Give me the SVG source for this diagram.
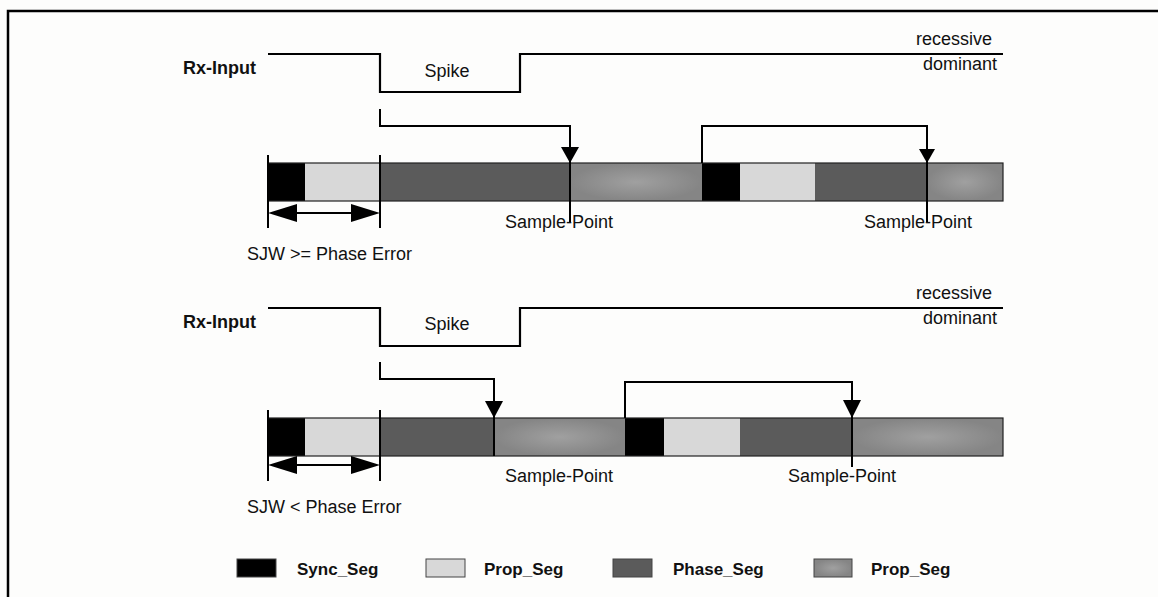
<svg xmlns="http://www.w3.org/2000/svg" width="1158" height="597" viewBox="0 0 1158 597">
<defs>
<radialGradient id="gr" cx="0.5" cy="0.5" r="0.5">
<stop offset="0" stop-color="#a0a0a0"/>
<stop offset="1" stop-color="#858585"/>
</radialGradient>
</defs>
<style>
.t{font-family:"Liberation Sans",Arial,sans-serif;font-size:18px;fill:#111}
.b{font-family:"Liberation Sans",Arial,sans-serif;font-size:18px;font-weight:bold;fill:#111}
.lg{font-family:"Liberation Sans",Arial,sans-serif;font-size:17px;font-weight:bold;fill:#111}
.sig{fill:none;stroke:#000;stroke-width:2.2}
.ln{fill:none;stroke:#000;stroke-width:2}
.sync{fill:#000}
.prop{fill:#d8d8d8}
.phase{fill:#5b5b5b}
.ps2{fill:url(#gr)}
.bar{fill:none;stroke:#222;stroke-width:1.2}
.ah{fill:#000}
.sq{stroke:#444;stroke-width:1}
</style>
<rect x="0" y="0" width="1158" height="597" fill="#fdfdfc"/>
<path d="M8,597 V11 H1158" fill="none" stroke="#000" stroke-width="2.5"/>

<g id="top-signal">
<text class="b" x="183" y="74">Rx-Input</text>
<path class="sig" d="M268,54 H380 V92 H520 V54 H1003"/>
<text class="t" x="447" y="77" text-anchor="middle">Spike</text>
<text class="t" x="992" y="45" text-anchor="end">recessive</text>
<text class="t" x="997" y="70" text-anchor="end">dominant</text>
</g>

<g id="top-bar">
<rect class="sync" x="268" y="163" width="37" height="38"/>
<rect class="prop" x="305" y="163" width="75" height="38"/>
<rect class="phase" x="380" y="163" width="190" height="38"/>
<rect class="ps2" x="570" y="163" width="132" height="38"/>
<rect class="sync" x="702" y="163" width="38" height="38"/>
<rect class="prop" x="740" y="163" width="75" height="38"/>
<rect class="phase" x="815" y="163" width="112" height="38"/>
<rect class="ps2" x="927" y="163" width="76" height="38"/>
<rect class="bar" x="268" y="163" width="735" height="38"/>
</g>

<g id="top-sjw">
<line class="ln" x1="268" y1="155" x2="268" y2="228"/>
<line class="ln" x1="380" y1="155" x2="380" y2="228"/>
<line class="ln" x1="290" y1="213" x2="358" y2="213"/>
<polygon class="ah" points="268,213 297,204 297,222"/>
<polygon class="ah" points="380,213 351,204 351,222"/>
<text class="t" x="247" y="260">SJW &gt;= Phase Error</text>
</g>

<g id="top-sample">
<text class="t" x="559" y="228" text-anchor="middle">Sample-Point</text>
<text class="t" x="918" y="228" text-anchor="middle">Sample-Point</text>
</g>

<g id="bottom-signal">
<text class="b" x="183" y="328">Rx-Input</text>
<path class="sig" d="M268,308 H380 V346 H520 V308 H1003"/>
<text class="t" x="447" y="330" text-anchor="middle">Spike</text>
<text class="t" x="992" y="299" text-anchor="end">recessive</text>
<text class="t" x="997" y="324" text-anchor="end">dominant</text>
</g>

<g id="bottom-bar">
<rect class="sync" x="268" y="418" width="37" height="38"/>
<rect class="prop" x="305" y="418" width="75" height="38"/>
<rect class="phase" x="380" y="418" width="114" height="38"/>
<rect class="ps2" x="494" y="418" width="131" height="38"/>
<rect class="sync" x="625" y="418" width="39" height="38"/>
<rect class="prop" x="664" y="418" width="76" height="38"/>
<rect class="phase" x="740" y="418" width="112" height="38"/>
<rect class="ps2" x="852" y="418" width="151" height="38"/>
<rect class="bar" x="268" y="418" width="735" height="38"/>
</g>

<g id="bottom-sjw">
<line class="ln" x1="268" y1="410" x2="268" y2="481"/>
<line class="ln" x1="380" y1="410" x2="380" y2="481"/>
<line class="ln" x1="290" y1="465" x2="358" y2="465"/>
<polygon class="ah" points="268,465 297,456 297,474"/>
<polygon class="ah" points="380,465 351,456 351,474"/>
<text class="t" x="247" y="513">SJW &lt; Phase Error</text>
</g>

<g id="bottom-sample">
<text class="t" x="559" y="482" text-anchor="middle">Sample-Point</text>
<text class="t" x="842" y="482" text-anchor="middle">Sample-Point</text>
</g>

<g id="connectors">
<path class="ln" d="M380,109 V126 H570 V222"/>
<polygon class="ah" points="561,147 579,147 570,163"/>
<path class="ln" d="M702,163 V126 H927 V222"/>
<polygon class="ah" points="919,149 935,149 927,163"/>
<path class="ln" d="M380,362 V379 H494 V456"/>
<polygon class="ah" points="485,401 503,401 494,418"/>
<path class="ln" d="M625,418 V382 H852 V467"/>
<polygon class="ah" points="843,400 861,400 852,418"/>
</g>

<g id="legend">
<rect class="sync sq" x="237" y="559" width="39" height="18"/>
<text class="lg" x="297" y="575">Sync_Seg</text>
<rect class="prop sq" x="426" y="559" width="39" height="18"/>
<text class="lg" x="484" y="575">Prop_Seg</text>
<rect class="phase sq" x="613" y="559" width="39" height="18"/>
<text class="lg" x="673" y="575">Phase_Seg</text>
<rect class="ps2 sq" x="814" y="559" width="38" height="18"/>
<text class="lg" x="871" y="575">Prop_Seg</text>
</g>
</svg>
